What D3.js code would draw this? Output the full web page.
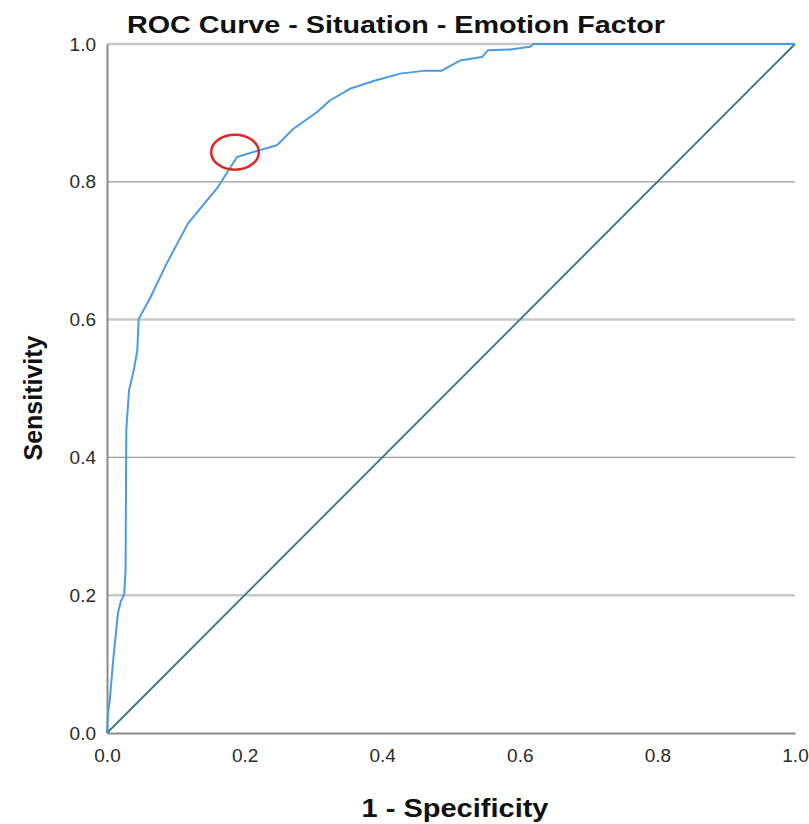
<!DOCTYPE html>
<html>
<head>
<meta charset="utf-8">
<script src="https://cdn.jsdelivr.net/npm/d3@7"></script>
<style>
  body { margin: 0; background: #fff; }
  svg { display: block; font-family: "Liberation Sans", Arial, sans-serif; }
</style>
</head>
<body>
<div id="chart"></div>
<script>
// ROC curve points (1 - specificity, sensitivity)
var fpr = [0, 0.0015, 0.004, 0.009, 0.016, 0.020, 0.025, 0.027, 0.028, 0.032, 0.039, 0.044, 0.046,
           0.0625, 0.087, 0.118, 0.161, 0.189, 0.222, 0.247, 0.271, 0.305, 0.324, 0.353, 0.390,
           0.426, 0.460, 0.486, 0.513, 0.545, 0.554, 0.586, 0.615, 0.620, 1.0];
var tpr = [0, 0.030, 0.047, 0.106, 0.175, 0.191, 0.201, 0.236, 0.439, 0.497, 0.527, 0.555, 0.601,
           0.631, 0.682, 0.740, 0.792, 0.836, 0.846, 0.853, 0.877, 0.901, 0.918, 0.935, 0.947,
           0.957, 0.961, 0.961, 0.976, 0.981, 0.991, 0.992, 0.996, 1.0, 1.0];
var refLine = [0, 1];
var tickValues = [0, 0.2, 0.4, 0.6, 0.8, 1.0];
// highlighted cut-off point (centre and radii in data units)
var marker = [0.186, 0.843];
var markerRadius = [0.0346, 0.0254];

var width = 809, height = 824;
var plotLeft = 107, plotRight = 795, plotTop = 44, plotBottom = 733;

var svg = d3.select("#chart").append("svg")
    .attr("width", width)
    .attr("height", height);

var x = d3.scaleLinear().domain([0, 1]).range([plotLeft, plotRight]);
var y = d3.scaleLinear().domain([0, 1]).range([plotBottom, plotTop]);

// horizontal grid
svg.append("g")
    .selectAll("line")
    .data(tickValues.slice(1))
    .enter().append("line")
    .attr("x1", x(0)).attr("x2", x(1))
    .attr("y1", function(d) { return y(d); })
    .attr("y2", function(d) { return y(d); })
    .attr("stroke", function(d, i) { return i % 2 == 0 ? "#c8c8c8" : "#9a9a9a"; })
    .attr("stroke-width", function(d, i) { return i % 2 == 0 ? 2.5 : 1.2; });

// axes
var yAxis = d3.axisLeft(y).tickValues(tickValues).tickFormat(d3.format(".1f")).tickSize(0).tickPadding(11);
var xAxis = d3.axisBottom(x).tickValues(tickValues).tickFormat(d3.format(".1f")).tickSize(0).tickPadding(16);

var gy = svg.append("g").attr("transform", "translate(" + plotLeft + ",0)").call(yAxis);
var gx = svg.append("g").attr("transform", "translate(0," + plotBottom + ")").call(xAxis);

[gy, gx].forEach(function(g) {
    g.attr("font-size", null).attr("font-family", null);
    g.select(".domain").attr("stroke", "#8a8a8a").attr("stroke-width", 2);
    g.selectAll("text")
        .attr("fill", "#2b2b2b")
        .style("font-size", "19px");
});

// reference diagonal
svg.append("path")
    .datum(refLine)
    .attr("fill", "none")
    .attr("stroke", "#2d7a72")
    .attr("stroke-width", 1.8)
    .attr("d", d3.line().x(function(d) { return x(d); }).y(function(d) { return y(d); }));

// ROC curve
var pts = fpr.map(function(v, i) { return [v, tpr[i]]; });
svg.append("path")
    .datum(pts)
    .attr("fill", "none")
    .attr("stroke", "#4b9be3")
    .attr("stroke-width", 2)
    .attr("stroke-linejoin", "round")
    .attr("d", d3.line().x(function(d) { return x(d[0]); }).y(function(d) { return y(d[1]); }));

// cut-off marker
svg.append("ellipse")
    .attr("cx", x(marker[0]))
    .attr("cy", y(marker[1]))
    .attr("rx", x(markerRadius[0]) - x(0))
    .attr("ry", y(0) - y(markerRadius[1]))
    .attr("fill", "none")
    .attr("stroke", "#e3261f")
    .attr("stroke-width", 2.5);

// title and axis labels
svg.append("text")
    .attr("x", 396).attr("y", 33)
    .attr("text-anchor", "middle")
    .attr("fill", "#111")
    .attr("textLength", 538)
    .attr("lengthAdjust", "spacingAndGlyphs")
    .style("font-size", "24px")
    .style("font-weight", "bold")
    .text("ROC Curve - Situation - Emotion Factor");

svg.append("text")
    .attr("transform", "translate(42,398) rotate(-90)")
    .attr("text-anchor", "middle")
    .attr("fill", "#111")
    .style("font-size", "25px")
    .style("font-weight", "bold")
    .text("Sensitivity");

svg.append("text")
    .attr("x", 455).attr("y", 817)
    .attr("text-anchor", "middle")
    .attr("fill", "#111")
    .attr("textLength", 187)
    .attr("lengthAdjust", "spacingAndGlyphs")
    .style("font-size", "25px")
    .style("font-weight", "bold")
    .text("1 - Specificity");
</script>
</body>
</html>
